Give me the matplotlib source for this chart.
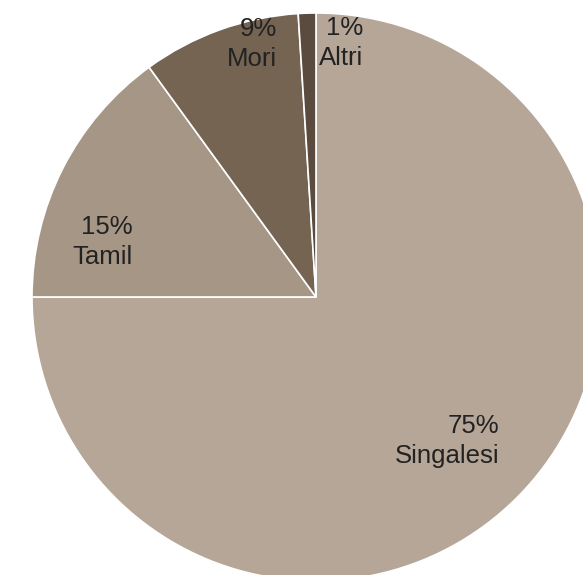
import matplotlib
matplotlib.use("Agg")
import matplotlib.pyplot as plt

labels = ["Singalesi", "Tamil", "Mori", "Altri"]
values = [75, 15, 9, 1]
colors = ["#b6a698", "#a69686", "#766453", "#5b4b3e"]

W, H = 583, 575
fig = plt.figure(figsize=(W / 100, H / 100), dpi=100)
ax = fig.add_axes([0, 0, 1, 1])
cx, cy, r = 316, H - 297, 284
ax.pie(values, colors=colors, startangle=90, counterclock=False,
       center=(cx, cy), radius=r, frame=True,
       wedgeprops=dict(edgecolor="white", linewidth=1.2))
ax.set_xlim(0, W)
ax.set_ylim(0, H)
ax.set_aspect("equal")
ax.axis("off")

# label positions (pixel coords, right edge / vertical center)
label_pos = [(499, 441), (133, 242), (277, 44), (363, 43)]
for lab, v, (x, y) in zip(labels, values, label_pos):
    ax.text(x, H - y, f"{v}%\n{lab}", ha="right", va="center",
            multialignment="right", fontsize=18.5, color="#222222",
            family="Liberation Sans", linespacing=1.3)

fig.savefig("out.png", dpi=100)
